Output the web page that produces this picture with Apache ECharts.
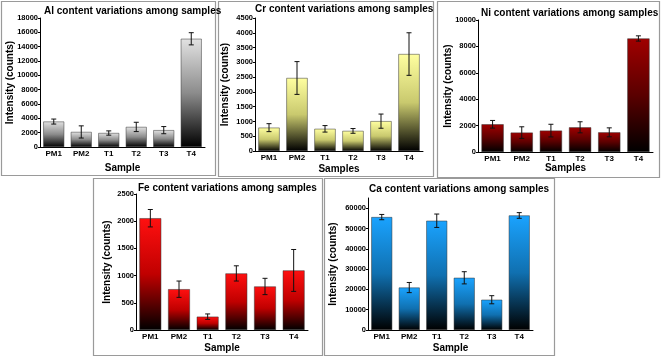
<!DOCTYPE html>
<html lang="en">
<head>
  <meta charset="UTF-8">
  <title>Element content variations</title>
  <script src="https://cdn.jsdelivr.net/npm/echarts@6/dist/echarts.min.js"></script>
  <style>
    html, body { margin: 0; padding: 0; background: #fff; }
    #chart { width: 661px; height: 358px; }
  </style>
</head>
<body>
  <div id="chart"></div>
<script>
  const samples = ['PM1', 'PM2', 'T1', 'T2', 'T3', 'T4'];

  const alMean = [3550, 2100, 1950, 2800, 2350, 15100];
  const alErr = [350, 850, 300, 650, 500, 850];
  const crMean = [790, 2470, 750, 680, 1010, 3280];
  const crErr = [135, 555, 110, 80, 240, 720];
  const niMean = [2100, 1470, 1620, 1870, 1490, 8600];
  const niErr = [290, 440, 480, 420, 340, 200];
  const feMean = [2055, 750, 245, 1040, 800, 1095];
  const feErr = [160, 150, 50, 140, 150, 385];
  const caMean = [55600, 20900, 53800, 25700, 14900, 56400];
  const caErr = [1300, 2500, 3300, 3000, 2000, 1400];

  const FONT = 'Liberation Sans';

  // one entry per panel
  const panels = [
    { el: 'Al', mean: alMean, err: alErr, xName: 'Sample', max: 18000, interval: 2000, lastLabel: true,
      grid: { left: 40, top: 18, width: 165, height: 129 }, titlePos: [44, 6],
      yGap: 25, xGap: 16, top: '#e2e2e2', mid: '#8c8c8c', box: [1, 1, 214, 174] },
    { el: 'Cr', mean: crMean, err: crErr, xName: 'Samples', max: 4500, interval: 500, lastLabel: true,
      grid: { left: 255, top: 18, width: 168, height: 133 }, titlePos: [255, 4],
      yGap: 25, xGap: 13, top: '#ffffa0', mid: '#c9c96e', box: [218, 1, 215, 175] },
    { el: 'Ni', mean: niMean, err: niErr, xName: 'Samples', max: 10000, interval: 2000, lastLabel: true,
      grid: { left: 478, top: 20, width: 175, height: 132 }, titlePos: [481, 8],
      yGap: 25, xGap: 11, top: '#a00000', mid: '#5a0000', box: [437, 1, 222, 176] },
    { el: 'Fe', mean: feMean, err: feErr, xName: 'Sample', max: 2500, interval: 500, lastLabel: true,
      grid: { left: 136, top: 194, width: 172, height: 136 }, titlePos: [138, 183],
      yGap: 24, xGap: 13, top: '#ff1010', mid: '#c00000', box: [93, 178, 229, 177] },
    { el: 'Ca', mean: caMean, err: caErr, xName: 'Sample', max: 65000, interval: 10000, lastLabel: false,
      grid: { left: 368, top: 198, width: 165, height: 132 }, titlePos: [369, 184],
      yGap: 30, xGap: 13, top: '#1aa3ff', mid: '#1070b0', box: [324, 178, 230, 177] }
  ];

  function renderErr(params, api) {
    const x = api.value(0);
    const lo = api.coord([x, api.value(1)]);
    const hi = api.coord([x, api.value(2)]);
    const w = 2.5;
    const style = { stroke: '#111', lineWidth: 1 };
    return {
      type: 'group',
      children: [
        { type: 'line', shape: { x1: hi[0], y1: hi[1], x2: lo[0], y2: lo[1] }, style },
        { type: 'line', shape: { x1: hi[0] - w, y1: hi[1], x2: hi[0] + w, y2: hi[1] }, style },
        { type: 'line', shape: { x1: lo[0] - w, y1: lo[1], x2: lo[0] + w, y2: lo[1] }, style }
      ]
    };
  }

  const grid = [], xAxis = [], yAxis = [], series = [], title = [], graphic = [];

  panels.forEach((p, i) => {
    grid.push(Object.assign({ outerBoundsMode: 'none' }, p.grid));
    title.push({
      text: p.el + ' content variations among samples',
      left: p.titlePos[0], top: p.titlePos[1], padding: 0,
      textStyle: { fontSize: 10, fontWeight: 'bold', color: '#000', fontFamily: FONT }
    });
    xAxis.push({
      type: 'category', gridIndex: i, data: samples,
      name: p.xName, nameLocation: 'middle', nameGap: p.xGap, nameMoveOverlap: false,
      nameTextStyle: { fontSize: 10, fontWeight: 'bold', color: '#000', fontFamily: FONT },
      axisLine: { lineStyle: { color: '#000', width: 1 } },
      axisTick: { alignWithLabel: true, length: 2, lineStyle: { color: '#000' } },
      axisLabel: { fontSize: 8, fontWeight: 'bold', color: '#000', fontFamily: FONT, margin: 3 }
    });
    yAxis.push({
      type: 'value', gridIndex: i, min: 0, max: p.max, interval: p.interval,
      name: 'Intensity (counts)', nameLocation: 'middle', nameGap: p.yGap, nameMoveOverlap: false,
      nameTextStyle: { fontSize: 10, fontWeight: 'bold', color: '#000', fontFamily: FONT },
      axisLine: { show: true, lineStyle: { color: '#000', width: 1 } },
      axisTick: { show: true, length: 2, lineStyle: { color: '#000' } },
      axisLabel: { fontSize: 7.5, fontWeight: 'bold', color: '#000', fontFamily: FONT, margin: 2,
        showMaxLabel: p.lastLabel, formatter: (v) => String(v) },
      splitLine: { show: false }
    });
    series.push({
      type: 'bar', xAxisIndex: i, yAxisIndex: i, data: p.mean, barWidth: '76%',
      itemStyle: {
        borderColor: '#333', borderWidth: 0.5,
        color: {
          type: 'linear', x: 0, y: 0, x2: 0, y2: 1,
          colorStops: [
            { offset: 0, color: p.top },
            { offset: 0.5, color: p.mid },
            { offset: 1, color: '#000' }
          ]
        }
      }
    });
    series.push({
      type: 'custom', xAxisIndex: i, yAxisIndex: i, renderItem: renderErr,
      encode: { x: 0, y: [1, 2] }, z: 5,
      data: p.mean.map((m, k) => [k, m - p.err[k], m + p.err[k]])
    });
    graphic.push({
      type: 'rect', silent: true,
      shape: { x: p.box[0] + 0.5, y: p.box[1] + 0.5, width: p.box[2], height: p.box[3] },
      style: { fill: 'none', stroke: '#9a9a9a', lineWidth: 1.2 }
    });
  });

  const chart = echarts.init(document.getElementById('chart'), null, { renderer: 'canvas' });
  chart.setOption({
    animation: false,
    backgroundColor: '#fff',
    title, grid, xAxis, yAxis, series, graphic
  });
</script>
</body>
</html>
